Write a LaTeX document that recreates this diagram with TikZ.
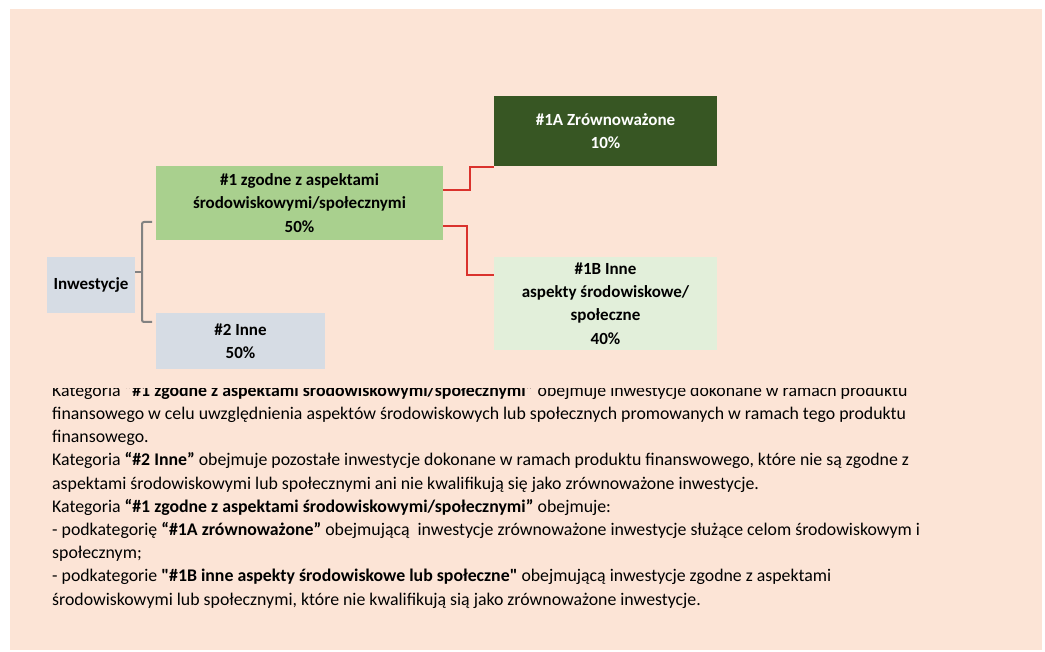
\documentclass[tikz,border=0pt]{standalone}
\usepackage{fontspec}
\setmainfont{Carlito}
\usepackage{xcolor}
\usepackage{tikz}
\usetikzlibrary{positioning}

\definecolor{peach}{RGB}{252,228,214}
\definecolor{greyblue}{RGB}{214,220,228}
\definecolor{midgreen}{RGB}{169,208,142}
\definecolor{darkgreen}{RGB}{55,86,35}
\definecolor{palegreen}{RGB}{226,239,218}
\definecolor{linkred}{RGB}{218,50,45}
\definecolor{bracketgrey}{RGB}{130,130,130}

\begin{document}
\begin{tikzpicture}[
            category/.style={rectangle, inner sep=0pt, outer sep=0pt, align=center, font=\fontsize{17}{23.2}\selectfont\bfseries},
            link/.style={draw=linkred, line width=1.5pt},
            grouping/.style={draw=bracketgrey, line width=2pt, rounded corners=2pt}
        ]

        \useasboundingbox (0,0) rectangle (1045pt,-652pt);
        \fill[peach] (10pt,-9pt) rectangle (1042pt,-650pt);

        \node[category, fill=greyblue, minimum width=88pt, minimum height=56pt] (inw) at (91pt,-285pt) {Inwestycje};
        \node[category, fill=midgreen, minimum width=287pt, minimum height=74pt] (kat1) [above right=17pt and 21pt of inw] {\#1 zgodne z aspektami\\środowiskowymi/społecznymi\\50\%};
        \node[category, fill=greyblue, minimum width=169pt, minimum height=56pt] (kat2) [below right=0pt and 21pt of inw] {\#2 Inne\\50\%};
        \node[category, fill=darkgreen, text=white, minimum width=223pt, minimum height=70pt] (kat1a) [above right=0pt and 51pt of kat1] {\#1A Zrównoważone\\10\%};
        \node[category, fill=palegreen, minimum width=223pt, minimum height=93pt] (kat1b) [below right=17pt and 51pt of kat1] {\#1B Inne\\aspekty środowiskowe/\\społeczne\\40\%};

        \draw[grouping] ([xshift=-4pt,yshift=18pt]kat1.south west) -- ++(-10pt,0) |- ([xshift=-4pt,yshift=-9pt]kat2.north west);
        \draw[grouping] ([yshift=-15pt]inw.north east) -- ++(7pt,0);

        \draw[link] ([yshift=-24pt]kat1.north east) -- ++(27pt,0) |- ([yshift=-1pt]kat1a.south west);
        \draw[link] ([yshift=14pt]kat1.south east) -- ++(24pt,0) |- ([yshift=-18pt]kat1b.north west);

        % description below the chart, top line cut off as in the source
        \begin{scope}
            \clip (10pt,-389pt) rectangle (1042pt,-650pt);
            \node[anchor=north west, inner sep=0pt, align=left, font=\fontsize{17.8}{23.2}\selectfont] (desc) at (52pt,-383pt) {Kategoria \textbf{“\#1 zgodne z aspektami środowiskowymi/społecznymi”} obejmuje inwestycje dokonane w ramach produktu\\
finansowego w celu uwzględnienia aspektów środowiskowych lub społecznych promowanych w ramach tego produktu\\
finansowego.\\
Kategoria \textbf{“\#2 Inne”} obejmuje pozostałe inwestycje dokonane w ramach produktu finanswowego, które nie są zgodne z\\
aspektami środowiskowymi lub społecznymi ani nie kwalifikują się jako zrównoważone inwestycje.\\
Kategoria \textbf{“\#1 zgodne z aspektami środowiskowymi/społecznymi”} obejmuje:\\
- podkategorię \textbf{“\#1A zrównoważone”} obejmującą~ inwestycje zrównoważone inwestycje służące celom środowiskowym i\\
społecznym;\\
- podkategorie \textbf{\textquotedbl\#1B inne aspekty środowiskowe lub społeczne\textquotedbl} obejmującą inwestycje zgodne z aspektami\\
środowiskowymi lub społecznymi, które nie kwalifikują sią jako zrównoważone inwestycje.};
        \end{scope}

    \end{tikzpicture}
\end{document}
